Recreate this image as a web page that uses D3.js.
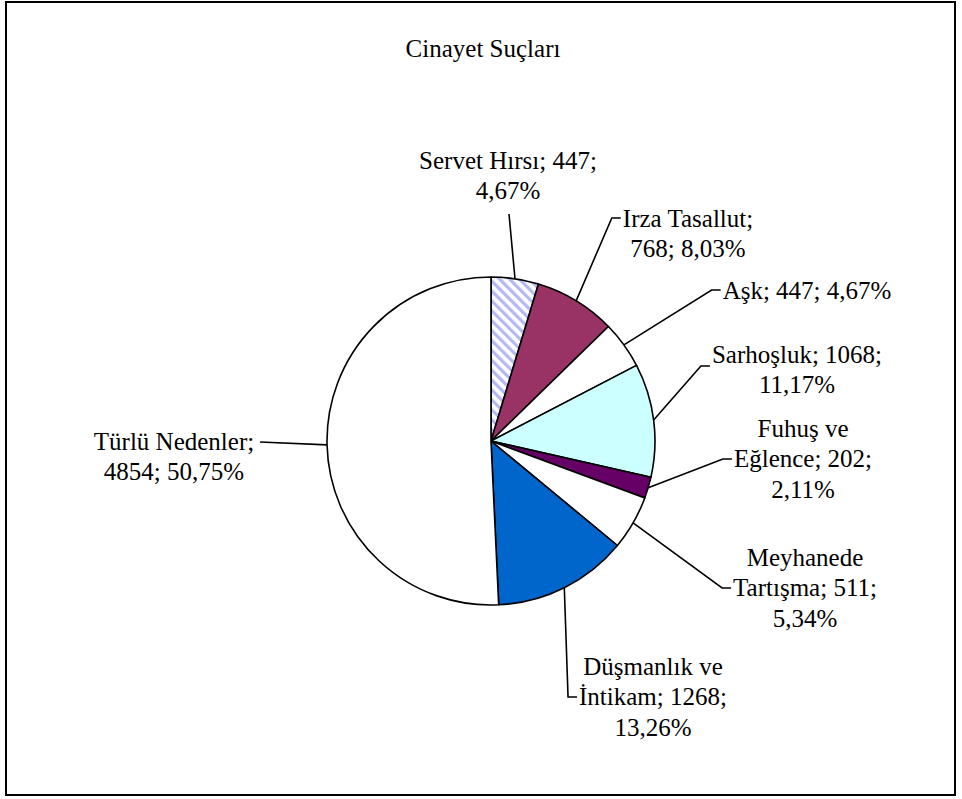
<!DOCTYPE html>
<html>
<head>
<meta charset="utf-8">
<script src="https://cdn.jsdelivr.net/npm/d3@7"></script>
<style>
  body { margin: 0; background: #fff; }
  text { font-family: "Liberation Serif", "Times New Roman", serif; fill: #000; }
</style>
</head>
<body>
<svg id="chart" width="962" height="799"></svg>
<script>
const categories = ["Servet Hırsı", "Irza Tasallut", "Aşk", "Sarhoşluk", "Fuhuş ve Eğlence",
  "Meyhanede Tartışma", "Düşmanlık ve İntikam", "Türlü Nedenler"];
const values = [447, 768, 447, 1068, 202, 511, 1268, 4854];
const percents = ["4,67%", "8,03%", "4,67%", "11,17%", "2,11%", "5,34%", "13,26%", "50,75%"];
const sliceColors = ["url(#hatch)", "#993366", "#ffffff", "#ccffff", "#660066", "#ffffff", "#0066cc", "#ffffff"];

// label text lines as wrapped in the original
const labelLines = [
  ["Servet Hırsı; 447;", "4,67%"],
  ["Irza Tasallut;", "768; 8,03%"],
  ["Aşk; 447; 4,67%"],
  ["Sarhoşluk; 1068;", "11,17%"],
  ["Fuhuş ve", "Eğlence; 202;", "2,11%"],
  ["Meyhanede", "Tartışma; 511;", "5,34%"],
  ["Düşmanlık ve", "İntikam; 1268;", "13,26%"],
  ["Türlü Nedenler;", "4854; 50,75%"]
];

// layout: label block centre, first line centre y, leader target
// tick = index of the line the leader hooks onto (null = plain line to elbow)
const labelLayout = [
  { cx: 508, cy: 160, elbow: [509, 214], tick: null },
  { cx: 688, cy: 218, elbowY: 218, tick: 0 },
  { cx: 807, cy: 290, elbowY: 290, tick: 0 },
  { cx: 797, cy: 354, elbowY: 366, tick: 0 },
  { cx: 803, cy: 428, elbowY: 459, tick: 1 },
  { cx: 805, cy: 557, elbowY: 588, tick: 1 },
  { cx: 653, cy: 666, elbowY: 697, tick: 1 },
  { cx: 174, cy: 441, elbow: [260, 442], tick: null }
];

const W = 962, H = 799;
const cx = 491, cy = 441, R = 164;
const lineGap = 30.5;
const fontSize = 25;

const svg = d3.select("#chart");

const defs = svg.append("defs");
const pat = defs.append("pattern")
  .attr("id", "hatch")
  .attr("patternUnits", "userSpaceOnUse")
  .attr("width", 7).attr("height", 7)
  .attr("patternTransform", "rotate(-45)");
pat.append("rect").attr("width", 7).attr("height", 7).attr("fill", "#ffffff");
pat.append("rect").attr("width", 3.2).attr("height", 7).attr("fill", "#b4b8f4");

// outer frame
svg.append("rect")
  .attr("x", 6).attr("y", 2)
  .attr("width", 949).attr("height", 793)
  .attr("fill", "#fff").attr("stroke", "#000").attr("stroke-width", 2);

svg.append("text")
  .attr("x", 483).attr("y", 48)
  .attr("dy", "0.35em")
  .attr("text-anchor", "middle")
  .attr("font-size", fontSize)
  .text("Cinayet Suçları");

const data = categories.map((c, i) => ({ name: c, value: values[i], color: sliceColors[i] }));

const pie = d3.pie().value(d => d.value).sort(null);
const arcs = pie(data);
const arc = d3.arc().innerRadius(0).outerRadius(R);
const edge = d3.arc().innerRadius(R).outerRadius(R);

const g = svg.append("g").attr("transform", `translate(${cx},${cy})`);

g.selectAll("path.slice")
  .data(arcs)
  .enter().append("path")
  .attr("class", "slice")
  .attr("d", arc)
  .attr("fill", d => d.data.color)
  .attr("stroke", "#000")
  .attr("stroke-width", 1.6)
  .attr("stroke-linejoin", "round");

const leaderLayer = svg.append("g");

// labels
const labels = svg.selectAll("g.label")
  .data(labelLines)
  .enter().append("g")
  .attr("class", "label");

labels.each(function (lines, i) {
  const L = labelLayout[i];
  d3.select(this).selectAll("text")
    .data(lines)
    .enter().append("text")
    .attr("x", L.cx)
    .attr("y", (t, j) => L.cy + j * lineGap)
    .attr("dy", "0.35em")
    .attr("text-anchor", "middle")
    .attr("font-size", fontSize)
    .text(t => t);
});

// leader lines: from the slice's mid edge to the label (short hook when tick is set)
leaderLayer.selectAll("path.leader")
  .data(arcs)
  .enter().append("path")
  .attr("class", "leader")
  .attr("fill", "none")
  .attr("stroke", "#000")
  .attr("stroke-width", 1.6)
  .attr("d", (d, i) => {
    const p = edge.centroid(d);
    const L = labelLayout[i];
    const start = `M${cx + p[0]},${cy + p[1]}`;
    if (L.tick == null) return `${start} L${L.elbow[0]},${L.elbow[1]}`;
    const node = labels.nodes()[i].querySelectorAll("text")[L.tick];
    const w = node.getComputedTextLength();
    const endX = L.cx - w / 2 - 2;
    return `${start} L${endX - 9},${L.elbowY} L${endX},${L.elbowY}`;
  });
</script>
</body>
</html>
